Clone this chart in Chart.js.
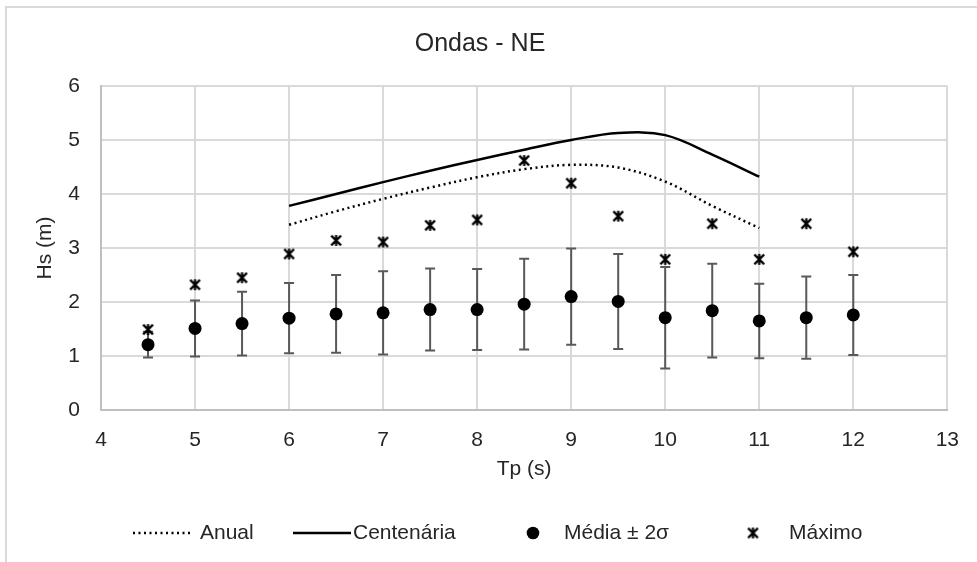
<!DOCTYPE html>
<html><head><meta charset="utf-8">
<script src="https://cdn.jsdelivr.net/npm/chart.js@4"></script>
<style>html,body{margin:0;padding:0;background:#fff;overflow:hidden}canvas{display:block}</style>
</head><body>
<canvas id="c" width="977" height="562"></canvas>
<script>
// ---- data ----
const chartTitle = 'Ondas - NE';
const xTitle = 'Tp (s)';
const yTitle = 'Hs (m)';
const seriesNames = ['Anual', 'Centenária', 'Média ± 2σ', 'Máximo'];

const tpCurves = [6, 6.5, 7, 7.5, 8, 8.5, 9, 9.5, 10, 10.5, 11];
const hsAnual = [3.43, 3.68, 3.91, 4.12, 4.31, 4.46, 4.54, 4.49, 4.23, 3.78, 3.37];
const hsCentenaria = [3.78, 4.00, 4.22, 4.43, 4.63, 4.82, 5.00, 5.13, 5.09, 4.73, 4.32];

const tpPoints = [4.5, 5, 5.5, 6, 6.5, 7, 7.5, 8, 8.5, 9, 9.5, 10, 10.5, 11, 11.5, 12];
const hsMedia = [1.21, 1.51, 1.60, 1.70, 1.78, 1.80, 1.86, 1.86, 1.96, 2.10, 2.01, 1.71, 1.84, 1.65, 1.71, 1.76];
const hsDoisSigma = [0.24, 0.52, 0.59, 0.65, 0.72, 0.77, 0.76, 0.75, 0.84, 0.89, 0.88, 0.94, 0.87, 0.69, 0.76, 0.74];
const hsMaximo = [1.49, 2.32, 2.45, 2.89, 3.14, 3.11, 3.42, 3.52, 4.62, 4.20, 3.59, 2.79, 3.45, 2.79, 3.45, 2.93];

const xMin = 4, xMax = 13, xStep = 1;
const yMin = 0, yMax = 6, yStep = 1;

// ---- styling ----
const FONT = '"Liberation Sans", Arial, sans-serif';
const TEXT = '#262626';
Chart.defaults.font.family = FONT;
Chart.defaults.color = TEXT;

function starMarker(size, lw) {
  const c = document.createElement('canvas');
  c.width = size; c.height = size;
  const g = c.getContext('2d');
  g.strokeStyle = '#000'; g.lineWidth = lw; g.lineCap = 'butt';
  const m = lw / 2 + 0.5, e = size - m, h = size / 2;
  g.beginPath();
  g.moveTo(m, m); g.lineTo(e, e);
  g.moveTo(e, m); g.lineTo(m, e);
  g.moveTo(h, m - 0.5); g.lineTo(h, e + 0.5);
  g.stroke();
  return c;
}
const star = starMarker(13, 2.2);

const toXY = (xs, ys) => xs.map((x, i) => ({x: x, y: ys[i]}));

const errorBars = {
  id: 'errorBars',
  beforeDatasetsDraw(chart) {
    const {ctx, scales: {x, y}} = chart;
    ctx.save();
    ctx.strokeStyle = '#595959';
    ctx.lineWidth = 2;
    tpPoints.forEach((tp, i) => {
      const px = x.getPixelForValue(tp);
      const top = y.getPixelForValue(hsMedia[i] + hsDoisSigma[i]);
      const bot = y.getPixelForValue(hsMedia[i] - hsDoisSigma[i]);
      ctx.beginPath();
      ctx.moveTo(px, top); ctx.lineTo(px, bot);
      ctx.moveTo(px - 5, top); ctx.lineTo(px + 5, top);
      ctx.moveTo(px - 5, bot); ctx.lineTo(px + 5, bot);
      ctx.stroke();
    });
    ctx.restore();
  }
};

const frame = {
  id: 'frame',
  beforeDraw(chart) {
    const ctx = chart.ctx;
    ctx.save();
    ctx.fillStyle = '#fff';
    ctx.fillRect(0, 0, chart.width, chart.height);
    ctx.strokeStyle = '#d9d9d9';
    ctx.lineWidth = 2;
    ctx.strokeRect(6, 7, chart.width + 20, chart.height + 20);
    ctx.restore();
  }
};

const legendDraw = {
  id: 'legendDraw',
  afterDraw(chart) {
    const ctx = chart.ctx;
    const y = 533;
    ctx.save();
    ctx.font = '21px ' + FONT;
    ctx.fillStyle = TEXT;
    ctx.textBaseline = 'middle';
    ctx.textAlign = 'left';
    ctx.strokeStyle = '#000';
    // Anual
    ctx.lineWidth = 2.5;
    ctx.setLineDash([2, 3.5]);
    ctx.beginPath(); ctx.moveTo(133, y); ctx.lineTo(191, y); ctx.stroke();
    ctx.setLineDash([]);
    ctx.fillText(seriesNames[0], 200, y);
    // Centenária
    ctx.beginPath(); ctx.moveTo(293, y); ctx.lineTo(351, y); ctx.stroke();
    ctx.fillText(seriesNames[1], 353, y);
    // Média
    ctx.fillStyle = '#000';
    ctx.beginPath(); ctx.arc(533, y, 6.3, 0, Math.PI * 2); ctx.fill();
    ctx.fillStyle = TEXT;
    ctx.fillText(seriesNames[2], 564, y);
    // Máximo
    ctx.drawImage(star, 753 - star.width / 2, y - star.height / 2);
    ctx.fillText(seriesNames[3], 789, y);
    ctx.restore();
  }
};

new Chart(document.getElementById('c'), {
  type: 'scatter',
  data: {
    datasets: [
      {label: seriesNames[0], type: 'line', data: toXY(tpCurves, hsAnual), borderColor: '#000', borderWidth: 2.5,
       borderDash: [2, 3.5], pointRadius: 0, tension: 0.35, fill: false, order: 3},
      {label: seriesNames[1], type: 'line', data: toXY(tpCurves, hsCentenaria), borderColor: '#000', borderWidth: 2.5,
       pointRadius: 0, tension: 0.35, fill: false, order: 2},
      {label: seriesNames[2], data: toXY(tpPoints, hsMedia), pointRadius: 6.5, backgroundColor: '#000', borderColor: '#000',
       borderWidth: 0, showLine: false, order: 1},
      {label: seriesNames[3], data: toXY(tpPoints, hsMaximo), pointStyle: star, pointRadius: 6, showLine: false, order: 0}
    ]
  },
  options: {
    responsive: false,
    animation: false,
    devicePixelRatio: 1,
    layout: {padding: {left: 10, right: 27, top: 0, bottom: 72}},
    plugins: {
      legend: {display: false},
      tooltip: {enabled: false},
      title: {display: true, text: chartTitle, color: TEXT, font: {size: 25, weight: 'normal'},
              padding: {top: 29, bottom: 27}}
    },
    scales: {
      x: {
        type: 'linear', min: xMin, max: xMax,
        ticks: {stepSize: xStep, font: {size: 21}, color: TEXT, padding: 18},
        grid: {color: '#d9d9d9', lineWidth: 2, drawTicks: false},
        border: {color: '#bfbfbf', width: 2},
        title: {display: true, text: xTitle, font: {size: 21}, color: TEXT, padding: {top: 0, bottom: 8}},
        afterFit(s) { s.height = 80; }
      },
      y: {
        type: 'linear', min: yMin, max: yMax,
        ticks: {stepSize: yStep, font: {size: 21}, color: TEXT, padding: 21},
        grid: {color: '#d9d9d9', lineWidth: 2, drawTicks: false},
        border: {color: '#bfbfbf', width: 2},
        title: {display: true, text: yTitle, font: {size: 21}, color: TEXT, padding: {top: 23, bottom: 0}},
        afterFit(s) { s.width = 91; }
      }
    }
  },
  plugins: [frame, errorBars, legendDraw]
});
</script>
</body></html>
